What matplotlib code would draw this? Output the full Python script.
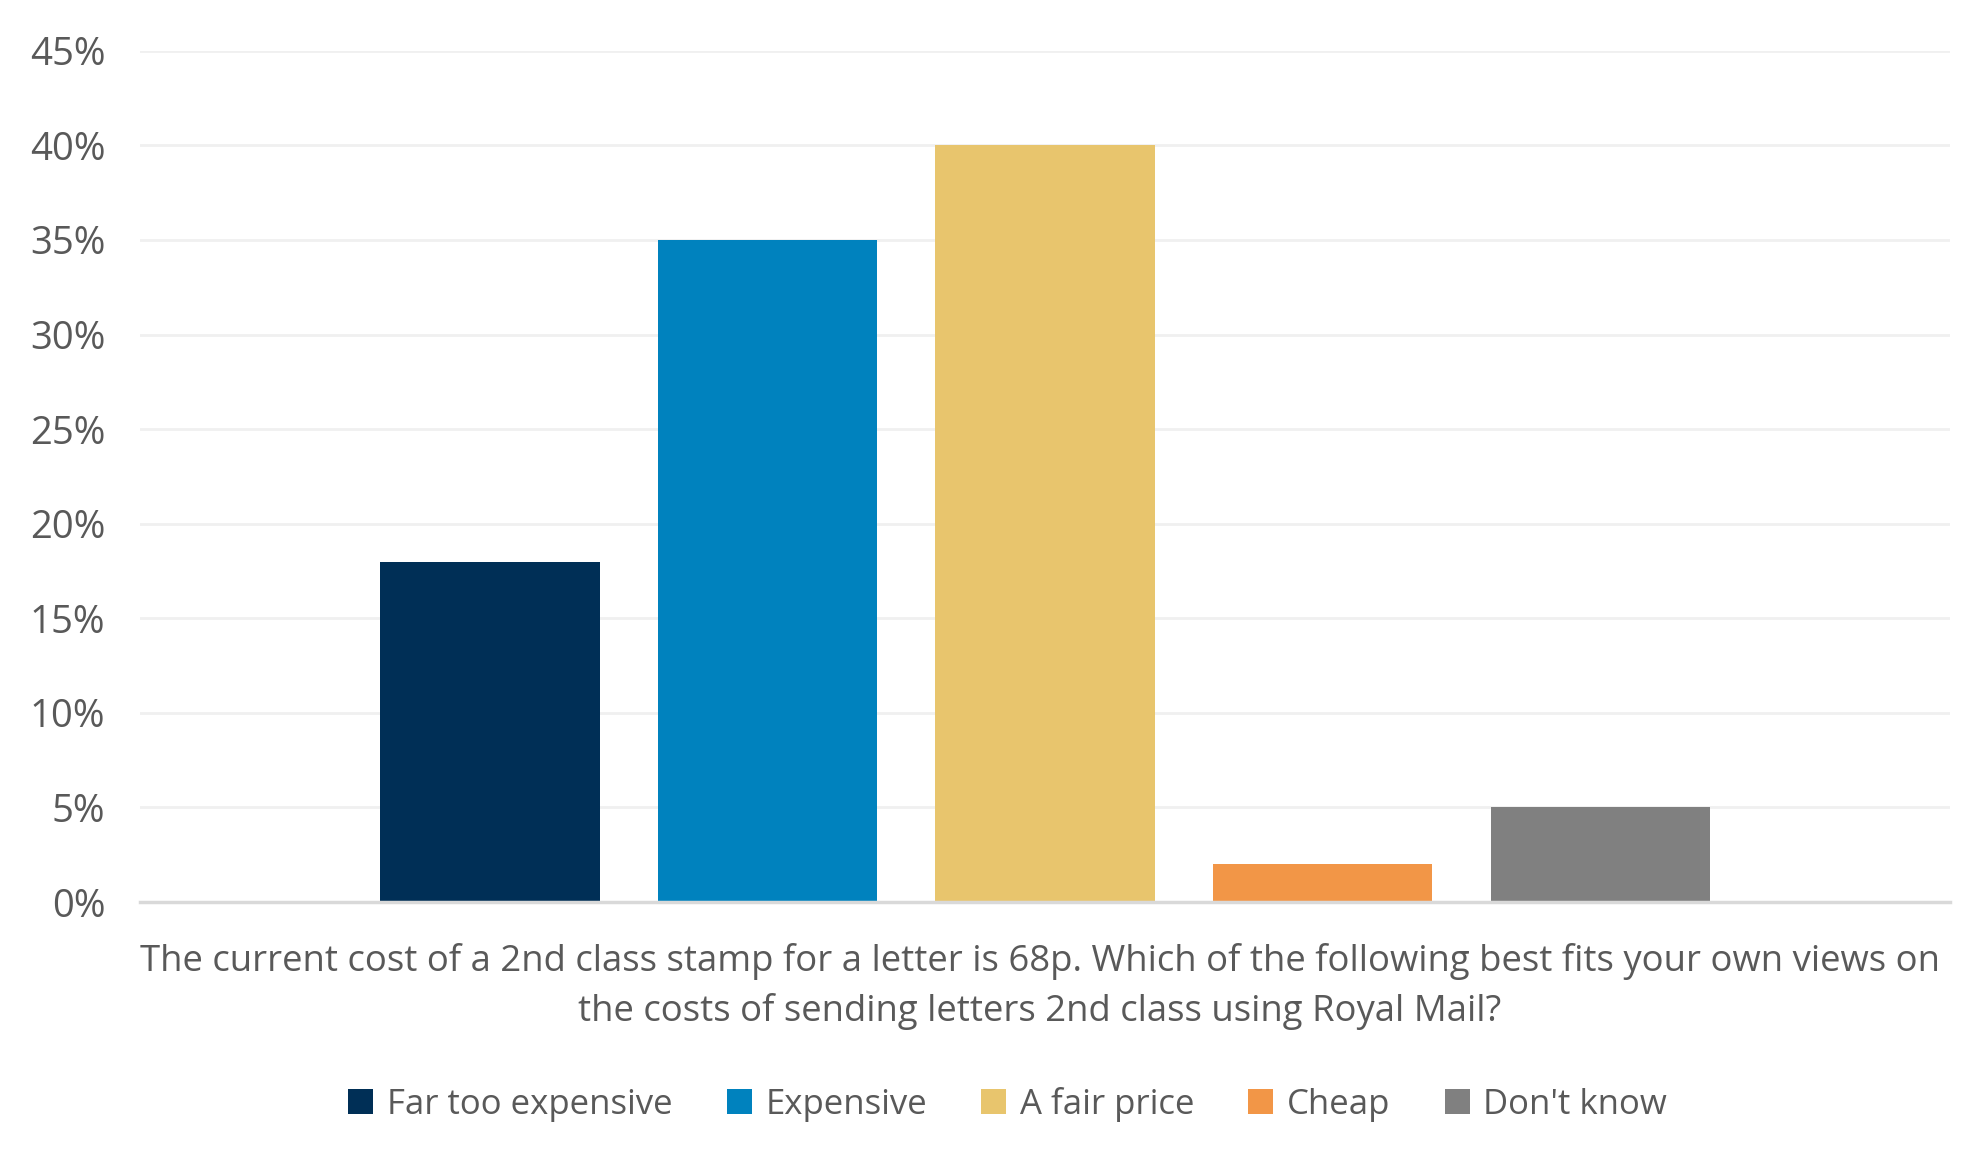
import matplotlib.pyplot as plt
from matplotlib.ticker import PercentFormatter

# datos de la encuesta
categorias = ["Far too expensive", "Expensive", "A fair price", "Cheap", "Don't know"]
valores = [18, 35, 40, 2, 5]
colores = ["#002F56", "#0082BE", "#E8C56D", "#F29647", "#808080"]
titulo_eje = ("The current cost of a 2nd class stamp for a letter is 68p. Which of the following best fits your own views on\n"
              "the costs of sending letters 2nd class using Royal Mail?")

plt.rcParams['font.family'] = ['Open Sans', 'DejaVu Sans']
gris_texto = "#595959"

fig = plt.figure(figsize=(19.8, 11.55), dpi=100)
ax = fig.add_axes([0.0707, 0.219, 0.9143, 0.737])

barras = []
for i, (cat, v, c) in enumerate(zip(categorias, valores, colores)):
    b = ax.bar(i, v / 100, width=0.79, color=c, label=cat, zorder=2)
    barras.append(b)

ax.set_xlim(-1.26, len(valores) - 1 + 1.26)
ax.set_ylim(0, 0.45)
ax.set_yticks([i * 0.05 for i in range(10)])
ax.yaxis.set_major_formatter(PercentFormatter(1.0, decimals=0))
ax.set_xticks([])

ax.grid(axis='y', color="#F0F0F0", linewidth=2, zorder=0)
for lado in ['top', 'right', 'left']:
    ax.spines[lado].set_visible(False)
ax.spines['bottom'].set_color("#D9D9D9")
ax.spines['bottom'].set_linewidth(2.5)
ax.spines['bottom'].set_zorder(3)

ax.tick_params(axis='y', length=0, pad=25, labelsize=27.5, labelcolor=gris_texto)

fig.text(0.525, 0.146, titulo_eje, ha='center', va='center', fontsize=26.3,
         color=gris_texto, linespacing=1.45)

fig.legend(handles=barras, labels=categorias, loc='center', bbox_to_anchor=(0.509, 0.044),
           ncol=5, frameon=False, fontsize=25, handlelength=0.72, handleheight=0.72,
           handletextpad=0.4, columnspacing=1.55, labelcolor=gris_texto)

fig.savefig("out.png", dpi=100)
